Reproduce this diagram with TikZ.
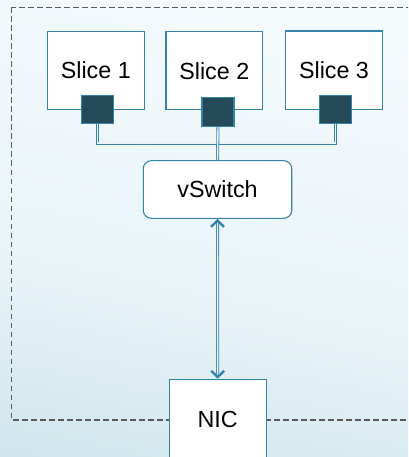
\documentclass[tikz,border=0pt]{standalone}
\usepackage{fontspec}
\setmainfont{Liberation Sans}

\definecolor{edgeblue}{RGB}{52,132,168}
\definecolor{portfill}{RGB}{37,74,90}
\definecolor{dashgray}{RGB}{90,90,90}
\definecolor{bgtop}{RGB}{248,252,254}
\definecolor{bgmid}{RGB}{234,244,248}
\definecolor{bgbot}{RGB}{160,204,216}

\pgfdeclareverticalshading{bgshade}{100bp}{%
  color(0bp)=(bgbot); color(14bp)=(bgbot!60!bgmid); color(45bp)=(bgmid);
  color(80bp)=(bgtop); color(100bp)=(bgtop)}

\tikzset{
  box/.style={draw=edgeblue, line width=1.1pt, fill=white, inner sep=0pt,
    font=\fontsize{23.3}{27}\selectfont},
  port/.style={draw=edgeblue, line width=1.1pt, fill=portfill, inner sep=0pt},
  dbl/.style={draw=edgeblue, line width=0.8pt, double=white!90!edgeblue,
    double distance=1.4pt},
  chevron/.style={draw=edgeblue, line width=2.4pt, line cap=butt, line join=miter},
  boundary/.style={draw=dashgray, line width=1.2pt, dash pattern=on 5.5pt off 3.5pt},
}

\begin{document}
\begin{tikzpicture}[x=1pt, y=-1pt]
  \clip (0,0) rectangle (408,457);
  % background
  \shade[shading=bgshade, shading angle=-12] (-60,-60) rectangle (468,517);

  % dashed host boundary
  \draw[boundary] (11.5,7.5) rectangle (420,420);

  % slices
  \node[box, minimum width=97pt, minimum height=78pt] (s1) at (95.8,70.3) {Slice 1};
  \node[box, minimum width=96.7pt, minimum height=78.3pt] (s2) at (214.3,70.8) {Slice 2};
  \node[box, minimum width=96.6pt, minimum height=78.3pt] (s3) at (334,70.2) {Slice 3};

  % virtual ports
  \node[port, minimum width=32pt, minimum height=28pt] (p1) at (97.3,109.8) {};
  \node[port, minimum width=32pt, minimum height=29pt] (p2) at (218,112.2) {};
  \node[port, minimum width=31.7pt, minimum height=28.3pt] (p3) at (335.2,109.8) {};

  % switch and NIC
  \node[box, rounded corners=8pt, minimum width=148.4pt, minimum height=57.6pt] (vs)
    at (217.5,189.5) {vSwitch};
  \node[box, minimum width=96.7pt, minimum height=79.7pt] (nic) at (217.7,419.2) {NIC};

  % links from the ports to the switch
  \draw[dbl] (p1.south) -- ++(0,18.7) -| (p3.south);
  \draw[dbl] (p2.south) -- (vs.north);

  % switch to NIC, open chevron heads at both ends
  % (shifts are in page coordinates: negative yshift points down)
  \draw[dbl] ([yshift=-1.5pt]vs.south) -- ([yshift=1.5pt]nic.north);
  \draw[chevron] ([xshift=-6.5pt,yshift=-8pt]vs.south) -- ([yshift=-1.8pt]vs.south)
    -- ([xshift=6.5pt,yshift=-8pt]vs.south);
  \draw[chevron] ([xshift=-6.5pt,yshift=8pt]nic.north) -- ([yshift=1.8pt]nic.north)
    -- ([xshift=6.5pt,yshift=8pt]nic.north);
\end{tikzpicture}
\end{document}
